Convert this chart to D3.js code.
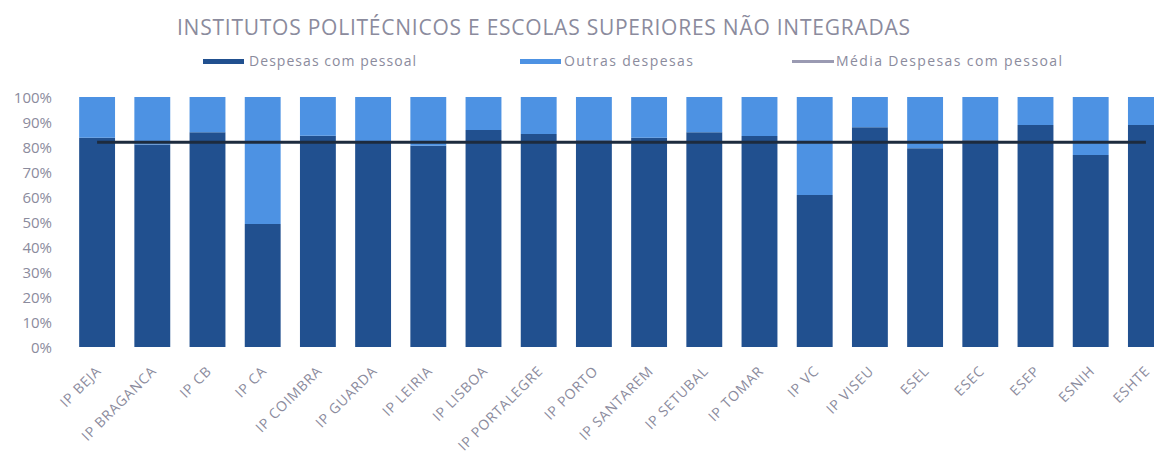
<!DOCTYPE html>
<html>
<head>
<meta charset="utf-8">
<script src="https://cdn.jsdelivr.net/npm/d3@7"></script>
<style>
  body { margin: 0; background: #fff; }
  svg text { font-family: 'Open Sans', sans-serif; }
</style>
</head>
<body>
<div id="chart"></div>
<script>
var categorias = ["IP BEJA", "IP BRAGANCA", "IP CB", "IP CA", "IP COIMBRA", "IP GUARDA", "IP LEIRIA",
  "IP LISBOA", "IP PORTALEGRE", "IP PORTO", "IP SANTAREM", "IP SETUBAL", "IP TOMAR", "IP VC",
  "IP VISEU", "ESEL", "ESEC", "ESEP", "ESNIH", "ESHTE"];
// share of personnel costs (the rest is "Outras despesas")
var despesasPessoal = [0.837, 0.81, 0.859, 0.492, 0.845, 0.821, 0.805, 0.868, 0.852, 0.827,
  0.837, 0.859, 0.844, 0.608, 0.879, 0.795, 0.827, 0.888, 0.768, 0.888];
var mediaPessoal = 0.819;
var yTicks = [0, 0.1, 0.2, 0.3, 0.4, 0.5, 0.6, 0.7, 0.8, 0.9, 1];

var data = categorias.map(function (c, i) {
  return { axis: c, pessoal: despesasPessoal[i], outras: 1 - despesasPessoal[i] };
});

var width = 1154, height = 455;
var svg = d3.select("#chart").append("svg")
  .attr("width", width).attr("height", height);

var darkBlue = "#21508f", lightBlue = "#4d92e3", lineColor = "#1d2b3e", grey = "#8b8b9d";

var x = d3.scaleBand().domain(categorias).range([69.5, 1173.5])
  .paddingInner(0.35).paddingOuter(0.175);
var y = d3.scaleLinear().domain([0, 1]).range([347, 97]);

// title
svg.append("text")
  .attr("x", 177).attr("y", 35)
  .attr("textLength", 733).attr("lengthAdjust", "spacing")
  .style("font-size", "21px")
  .style("fill", grey)
  .text("INSTITUTOS POLITÉCNICOS E ESCOLAS SUPERIORES NÃO INTEGRADAS");

// legend
var legend = svg.append("g").attr("class", "legend");
legend.append("rect").attr("x", 203).attr("y", 59).attr("width", 41).attr("height", 5).attr("fill", darkBlue);
legend.append("text").attr("x", 249).attr("y", 66).attr("textLength", 167)
  .style("font-size", "14px").style("fill", grey).text("Despesas com pessoal");
legend.append("rect").attr("x", 520).attr("y", 59).attr("width", 41).attr("height", 5).attr("fill", lightBlue);
legend.append("text").attr("x", 564).attr("y", 66).attr("textLength", 129)
  .style("font-size", "14px").style("fill", grey).text("Outras despesas");
legend.append("line").attr("x1", 792).attr("x2", 834).attr("y1", 61.5).attr("y2", 61.5)
  .attr("stroke", "#9a9ab2").attr("stroke-width", 3);
legend.append("text").attr("x", 836).attr("y", 66).attr("textLength", 226)
  .style("font-size", "14px").style("fill", grey).text("Média Despesas com pessoal");

// y axis
var yAxis = svg.append("g")
  .attr("class", "y axis")
  .attr("transform", "translate(52,0)")
  .call(d3.axisLeft(y).tickValues(yTicks).tickFormat(d3.format(".0%")).tickSize(0).tickPadding(0));
yAxis.select(".domain").remove();
yAxis.selectAll("text")
  .attr("dy", "0.35em")
  .style("font-size", "15px")
  .style("fill", grey)
  .attr("font-family", "'Open Sans', sans-serif");

// stacked bars
var bars = svg.selectAll(".bar").data(data).enter().append("g").attr("class", "bar");
bars.append("rect")
  .attr("x", function (d) { return x(d.axis); })
  .attr("width", x.bandwidth())
  .attr("y", function (d) { return y(d.pessoal); })
  .attr("height", function (d) { return y(0) - y(d.pessoal); })
  .attr("fill", darkBlue);
bars.append("rect")
  .attr("x", function (d) { return x(d.axis); })
  .attr("width", x.bandwidth())
  .attr("y", function (d) { return y(d.pessoal + d.outras); })
  .attr("height", function (d) { return y(d.pessoal) - y(d.pessoal + d.outras); })
  .attr("fill", lightBlue);

// average line
var first = categorias[0], last = categorias[categorias.length - 1];
svg.append("line")
  .attr("x1", x(first) + x.bandwidth() / 2)
  .attr("x2", x(last) + x.bandwidth() / 2)
  .attr("y1", y(mediaPessoal)).attr("y2", y(mediaPessoal))
  .attr("stroke", lineColor).attr("stroke-width", 3);

// x axis labels
var xAxis = svg.append("g")
  .attr("class", "x axis")
  .attr("transform", "translate(0,347)")
  .call(d3.axisBottom(x).tickSize(0).tickPadding(0));
xAxis.select(".domain").remove();
xAxis.selectAll("text")
  .attr("y", 0).attr("dy", 0)
  .attr("transform", "translate(5,25) rotate(-45)")
  .style("text-anchor", "end")
  .style("font-size", "14px")
  .style("letter-spacing", "0.8px")
  .style("fill", grey)
  .attr("font-family", "'Open Sans', sans-serif");
</script>
</body>
</html>
